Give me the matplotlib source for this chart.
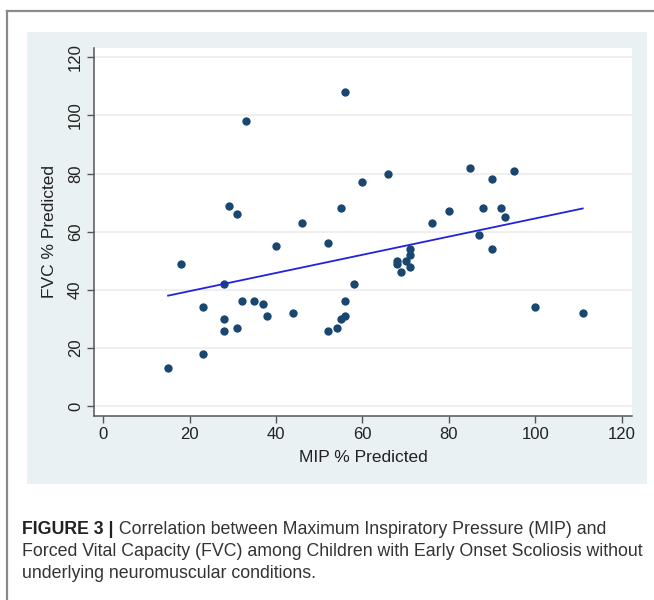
import matplotlib
matplotlib.use('Agg')
import matplotlib.pyplot as plt
from matplotlib.patches import Rectangle
from matplotlib.lines import Line2D

# MIP % predicted vs FVC % predicted
mip = [15, 18, 23, 23, 28, 28, 28, 29, 31, 31, 32, 33, 35, 37, 38, 40,
       44, 46, 52, 52, 54, 55, 55, 56, 56, 56, 58, 60, 66, 68, 68, 69,
       70, 71, 71, 71, 76, 80, 85, 87, 88, 90, 90, 92, 93, 95, 100, 111]
fvc = [13, 49, 34, 18, 42, 30, 26, 69, 66, 27, 36, 98, 36, 35, 31, 55,
       32, 63, 56, 26, 27, 30, 68, 31, 36, 108, 42, 77, 80, 50, 49, 46,
       50, 54, 52, 48, 63, 67, 82, 59, 68, 78, 54, 68, 65, 81, 34, 32]

# fitted line end points
fit_x = [15, 111]
fit_y = [38, 68]

x_ticks = [0, 20, 40, 60, 80, 100, 120]
y_ticks = [0, 20, 40, 60, 80, 100, 120]

caption_bold = 'FIGURE 3 |'
caption_lines = [
    ' Correlation between Maximum Inspiratory Pressure (MIP) and',
    'Forced Vital Capacity (FVC) among Children with Early Onset Scoliosis without',
    'underlying neuromuscular conditions.',
]

W, H = 654, 600
plt.rcParams['font.family'] = ['Liberation Sans', 'DejaVu Sans']

fig = plt.figure(figsize=(W / 100, H / 100), dpi=100)
fig.patch.set_facecolor('white')

# outer grey frame (open to the right/bottom)
fig.add_artist(Line2D([7 / W, 7 / W], [0, 1 - 11 / H], transform=fig.transFigure,
                      color='#8a8a8a', lw=1.6))
fig.add_artist(Line2D([7 / W, 1], [1 - 11 / H, 1 - 11 / H], transform=fig.transFigure,
                      color='#8a8a8a', lw=1.6))

# light bluish graph region
fig.add_artist(Rectangle((27 / W, 1 - 484 / H), (647 - 27) / W, (484 - 32) / H,
                         transform=fig.transFigure, facecolor='#eaf1f3',
                         edgecolor='none', zorder=0))

ax = fig.add_axes([94 / W, 1 - 416 / H, (632 - 94) / W, (416 - 48) / H])
ax.set_facecolor('white')
ax.set_xlim(-2.15, 122.4)
ax.set_ylim(-3.4, 123.2)

for y in y_ticks:
    ax.axhline(y, color='#ececec', lw=1.2, zorder=1)

ax.scatter(mip, fvc, s=36, color='#1a476f', linewidths=0, zorder=3)
ax.plot(fit_x, fit_y, color='#2222dd', lw=1.3, zorder=4)

ax.set_xticks(x_ticks)
ax.set_yticks(y_ticks)
ax.set_yticklabels([str(v) for v in y_ticks], rotation=90, va='center')
ax.tick_params(axis='both', direction='out', length=5, width=1, color='#555555',
               labelsize=12, labelcolor='#222222', pad=3)

for side in ['top', 'right']:
    ax.spines[side].set_visible(False)
for side in ['left', 'bottom']:
    ax.spines[side].set_color('#555555')
    ax.spines[side].set_linewidth(1.1)

fig.text(363 / W, 1 - 458 / H, 'MIP % Predicted', ha='center', va='center',
         fontsize=12.5, color='#222222')
fig.text(50 / W, 1 - 232 / H, 'FVC % Predicted', ha='center', va='center',
         rotation=90, fontsize=12.5, color='#222222')

# caption
cap_color = '#333333'
cap_size = 12.8
y1 = 1 - 529 / H
tb = fig.text(22 / W, y1, caption_bold, ha='left', va='center', fontsize=cap_size,
              fontweight='bold', color='#222222')
fig.canvas.draw()
bb = tb.get_window_extent()
fig.text(bb.x1 / W, y1, caption_lines[0], ha='left', va='center',
         fontsize=cap_size, color=cap_color)
fig.text(22 / W, 1 - 551 / H, caption_lines[1], ha='left', va='center',
         fontsize=cap_size, color=cap_color)
fig.text(22 / W, 1 - 573 / H, caption_lines[2], ha='left', va='center',
         fontsize=cap_size, color=cap_color)

fig.savefig('out.png', dpi=100)
